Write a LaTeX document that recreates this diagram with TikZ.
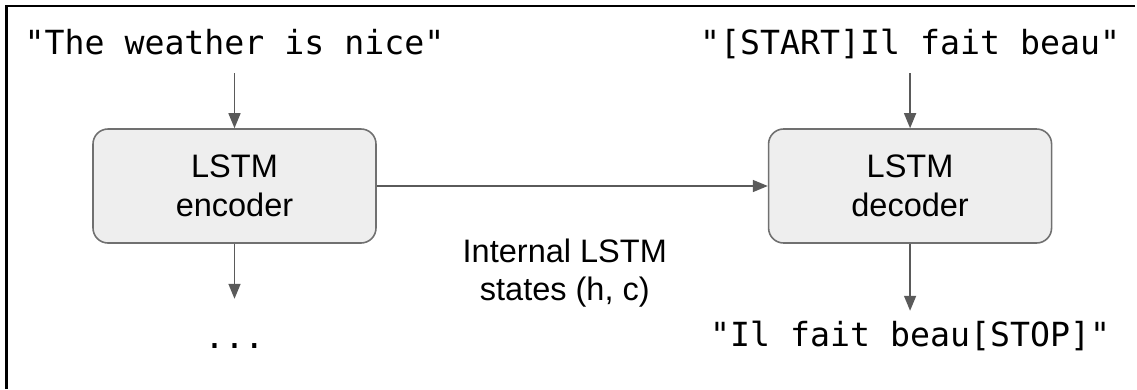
\documentclass[tikz,border=0pt]{standalone}
\usepackage{fontspec}
\setmainfont{Liberation Sans}
\setmonofont{DejaVu Sans Mono}
\usetikzlibrary{arrows.meta, positioning}

\definecolor{boxfill}{HTML}{EEEEEE}
\definecolor{boxline}{HTML}{707070}
\definecolor{arrowgray}{HTML}{5A5A5A}

\begin{document}
\begin{tikzpicture}[
  >={Triangle[length=0.3cm, width=0.24cm]},
  node distance=1.1cm and 7.82cm,
  lstm/.style={draw=boxline, line width=0.9pt, rectangle, rounded corners=0.3cm, minimum height=2.28cm, minimum width=5.66cm, align=center, fill=boxfill, font=\fontsize{18.5}{22}\selectfont},
  seq/.style={font=\fontsize{18.9}{22}\selectfont\ttfamily, text height=14.2pt, text depth=4.7pt, inner sep=6pt},
  arrow/.style={->, draw=arrowgray, fill=arrowgray, line width=0.85pt},
  statelabel/.style={font=\fontsize{18.5}{22}\selectfont, align=center}
]
\useasboundingbox (0,0) rectangle (22.74,7.78);

% Frame (top and left edges only)
\draw[line width=1.7pt] (0.13,0) |- (22.7,7.66);

% Nodes
\node[lstm] (enc) at (4.69,4.06) {LSTM\\encoder};
\node[lstm, right=of enc] (dec) {LSTM\\decoder};
\node[seq, above=of enc] (src) {"The weather is nice"};
\node[seq, above=of dec] (tgt) {"[START]Il fait beau"};
\node[seq, below=1.34cm of dec] (out) {"Il fait beau[STOP]"};
\coordinate[below=of enc] (encout);
\node[seq, below=0.28cm of encout] (dots) {...};

% Arrows
\draw[arrow] (src) -- (enc);
\draw[arrow] (tgt) -- (dec);
\draw[arrow] (enc) -- (encout);
\draw[arrow] (dec) -- (out);
\draw[arrow] (enc) -- node[statelabel, below=0.92cm, xshift=-0.15cm] {Internal LSTM\\states (h, c)} (dec);

\end{tikzpicture}
\end{document}
